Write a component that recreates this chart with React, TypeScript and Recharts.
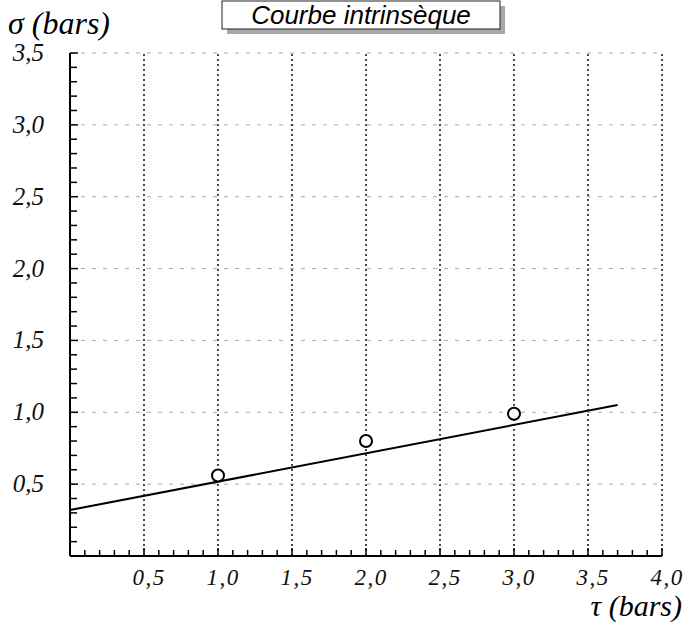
import { ComposedChart, XAxis, YAxis, Line, Scatter, ReferenceLine } from "recharts";

// measured points (tau, sigma) in bars
const tauPoints = [1.0, 2.0, 3.0];
const sigmaPoints = [0.56, 0.8, 0.99];

// fitted straight line
const fitTau = [0, 3.7];
const fitSigma = [0.32, 1.05];

// labelled ticks / grid lines
const tauTicks = [0.5, 1.0, 1.5, 2.0, 2.5, 3.0, 3.5, 4.0];
const sigmaTicks = [0.5, 1.0, 1.5, 2.0, 2.5, 3.0, 3.5];

// minor ticks every 0.1
const tauMinor = Array.from({ length: 41 }, (_, i) => i / 10);
const sigmaMinor = Array.from({ length: 36 }, (_, i) => i / 10);

const points = tauPoints.map((t, i) => ({ t, s: sigmaPoints[i] }));
const fit = fitTau.map((t, i) => ({ t, s: fitSigma[i] }));

const serif = "'Liberation Serif', 'Times New Roman', serif";
const fmt = (v: number) => v.toFixed(1).replace(".", ",");
const isMajor = (v: number) => Math.abs(v * 2 - Math.round(v * 2)) < 1e-6;

const XTick = ({ x, y, payload }: any) => {
  const v = payload.value as number;
  const major = isMajor(v);
  return (
    <g>
      <line x1={x} x2={x} y1={y} y2={y - (major ? 8 : 6)} stroke="#000" strokeWidth={1.5} />
      {major && v > 0 && (
        <text x={x + 5} y={y + 29} textAnchor="middle" fontFamily={serif} fontStyle="italic" fontSize={23} letterSpacing={1.5} fill="#111">
          {fmt(v)}
        </text>
      )}
    </g>
  );
};

const YTick = ({ x, y, payload }: any) => {
  const v = payload.value as number;
  const major = isMajor(v);
  return (
    <g>
      <line x1={x} x2={x + (major ? 8 : 7)} y1={y} y2={y} stroke="#000" strokeWidth={1.5} />
      {major && v > 0 && (
        <text x={x - 26} y={y + 8} textAnchor="end" fontFamily={serif} fontStyle="italic" fontSize={25} fill="#111">
          {fmt(v)}
        </text>
      )}
    </g>
  );
};

const Dot = ({ cx, cy }: any) => (
  <circle cx={cx} cy={cy} r={6} fill="#fff" stroke="#000" strokeWidth={2} />
);

export default function App() {
  return (
    <div style={{ position: "absolute", left: 0, top: 0, width: 689, height: 627, background: "#fff" }}>
      <ComposedChart width={689} height={627} margin={{ top: 53, right: 27, bottom: 41, left: 0 }}>
        <XAxis
          type="number"
          dataKey="t"
          domain={[0, 4]}
          ticks={tauMinor}
          interval={0}
          height={30}
          tick={<XTick />}
          tickLine={false}
          tickSize={0}
          tickMargin={0}
          axisLine={{ stroke: "#000", strokeWidth: 2 }}
        />
        <YAxis
          type="number"
          dataKey="s"
          domain={[0, 3.5]}
          ticks={sigmaMinor}
          interval={0}
          width={70}
          tick={<YTick />}
          tickLine={false}
          tickSize={0}
          tickMargin={0}
          axisLine={{ stroke: "#000", strokeWidth: 2 }}
        />
        {sigmaTicks.map((v) => (
          <ReferenceLine key={"h" + v} y={v} stroke="#aaa" strokeDasharray="4 7" strokeWidth={1} />
        ))}
        {tauTicks.map((v) => (
          <ReferenceLine key={"v" + v} x={v} stroke="#111" strokeDasharray="2 3" strokeWidth={1.5} />
        ))}
        <Line data={fit} dataKey="s" stroke="#000" strokeWidth={2} dot={false} isAnimationActive={false} />
        <Scatter data={points} dataKey="s" shape={<Dot />} isAnimationActive={false} />
      </ComposedChart>
      <svg width={689} height={627} style={{ position: "absolute", left: 0, top: 0, pointerEvents: "none" }}>
        <rect x={227} y={6} width={278} height={28} fill="#a8a8a8" />
        <rect x={222} y={1} width={278} height={28} fill="#fff" stroke="#222" strokeWidth={1} />
        <text x={361} y={24} textAnchor="middle" fontFamily="'Liberation Sans', Arial, sans-serif" fontStyle="italic" fontSize={26} fill="#000">
          Courbe intrinsèque
        </text>
        <text x={8} y={34} fontFamily={serif} fontStyle="italic" fontSize={32} fill="#000">
          σ (bars)
        </text>
        <text x={682} y={616} textAnchor="end" fontFamily={serif} fontStyle="italic" fontSize={30} fill="#000">
          τ (bars)
        </text>
      </svg>
    </div>
  );
}
